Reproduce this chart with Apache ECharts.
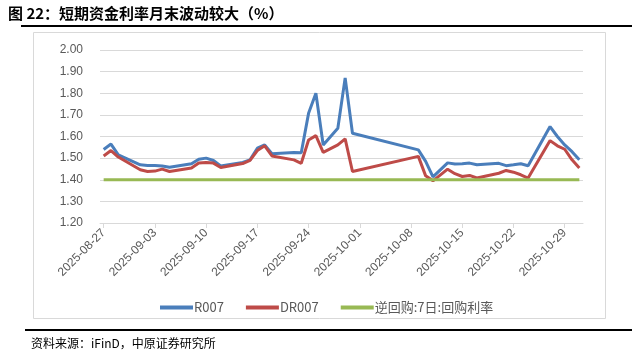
<!DOCTYPE html>
<html>
<head>
<meta charset="utf-8">
<script src="https://cdn.jsdelivr.net/npm/echarts@6/dist/echarts.min.js"></script>
<style>
html,body{margin:0;padding:0;background:#fff;}
#c{width:632px;height:364px;}
</style>
</head>
<body>
<div id="c"></div>
<script>
const dates = ["2025-08-27","2025-08-28","2025-08-29","2025-09-01","2025-09-02","2025-09-03","2025-09-04","2025-09-05","2025-09-08","2025-09-09","2025-09-10","2025-09-11","2025-09-12","2025-09-15","2025-09-16","2025-09-17","2025-09-18","2025-09-19","2025-09-22","2025-09-23","2025-09-24","2025-09-25","2025-09-26","2025-09-28","2025-09-29","2025-09-30","2025-10-09","2025-10-10","2025-10-11","2025-10-13","2025-10-14","2025-10-15","2025-10-16","2025-10-17","2025-10-20","2025-10-21","2025-10-22","2025-10-23","2025-10-24","2025-10-27","2025-10-28","2025-10-29","2025-10-30","2025-10-31"];
const r007 = [1.540,1.565,1.515,1.469,1.466,1.466,1.464,1.458,1.474,1.495,1.500,1.489,1.464,1.480,1.492,1.546,1.561,1.520,1.526,1.525,1.707,1.800,1.561,1.638,1.871,1.615,1.538,1.485,1.413,1.478,1.473,1.474,1.477,1.469,1.476,1.465,1.469,1.474,1.465,1.646,1.600,1.561,1.530,1.492];
const dr007 = [1.510,1.535,1.505,1.446,1.438,1.440,1.449,1.438,1.454,1.477,1.480,1.477,1.457,1.475,1.490,1.535,1.557,1.510,1.492,1.476,1.584,1.604,1.527,1.561,1.589,1.438,1.508,1.418,1.395,1.449,1.428,1.415,1.420,1.408,1.430,1.443,1.435,1.423,1.408,1.581,1.557,1.541,1.492,1.454];
const repo7d = [1.40,1.40,1.40,1.40,1.40,1.40,1.40,1.40,1.40,1.40,1.40,1.40,1.40,1.40,1.40,1.40,1.40,1.40,1.40,1.40,1.40,1.40,1.40,1.40,1.40,1.40,1.40,1.40,1.40,1.40,1.40,1.40,1.40,1.40,1.40,1.40,1.40,1.40,1.40,1.40,1.40,1.40,1.40,1.40];
const tickLabels = ["2025-08-27","2025-09-03","2025-09-10","2025-09-17","2025-09-24","2025-10-01","2025-10-08","2025-10-15","2025-10-22","2025-10-29"];
const seriesNames = ["R007","DR007","逆回购:7日:回购利率"];

const DAY = 86400000;
const t0 = Date.parse(dates[0] + "T00:00:00Z");
const off = d => Math.round((Date.parse(d + "T00:00:00Z") - t0) / DAY);
const tickOffsets = tickLabels.map(off);
const lastOff = off(dates[dates.length - 1]);
const labelByOff = {};
tickLabels.forEach(t => { labelByOff[off(t)] = t; });
const pairs = vals => dates.map((d, i) => [off(d), vals[i]]);

const chart = echarts.init(document.getElementById('c'), null, {renderer: 'canvas'});
const font = '"Liberation Sans", Arial, sans-serif';
chart.setOption({
  animation: false,
  backgroundColor: '#ffffff',
  textStyle: {fontFamily: font},
  graphic: [
    {type: 'text', left: 8, top: 6, style: {text: '图 22：短期资金利率月末波动较大（%）', font: 'bold 15px "Noto Sans CJK SC", sans-serif', fill: '#000'}},
    {type: 'rect', shape: {x: 21, y: 25, width: 611, height: 2}, style: {fill: '#000'}},
    {type: 'rect', shape: {x: 33.5, y: 32.5, width: 572, height: 286}, style: {fill: 'none', stroke: '#d9d9d9', lineWidth: 1}},
    {type: 'rect', shape: {x: 25, y: 329, width: 607, height: 2}, style: {fill: '#000'}},
    {type: 'text', left: 31, top: 337, style: {text: '资料来源：iFinD，中原证券研究所', font: '12px "Noto Sans CJK SC", sans-serif', fill: '#000'}}
  ],
  grid: {left: 100, right: 49, top: 50, bottom: 141, containLabel: false},
  legend: {
    left: 155, top: 296,
    icon: 'rect', itemWidth: 33, itemHeight: 4, itemGap: 22,
    textStyle: {color: '#595959', fontSize: 13, fontFamily: '"Noto Sans CJK SC", sans-serif', padding: [0,0,0,-4]},
    data: seriesNames
  },
  xAxis: {
    type: 'value', min: -0.5, max: lastOff + 0.5,
    splitLine: {show: false},
    axisLine: {show: true, lineStyle: {color: '#d9d9d9', width: 1}},
    axisTick: {show: true, customValues: tickOffsets, length: 5, inside: false, lineStyle: {color: '#d9d9d9'}},
    axisLabel: {
      customValues: tickOffsets, rotate: 45, color: '#595959', fontSize: 12, margin: 8,
      fontFamily: '"Liberation Sans", sans-serif',
      formatter: v => labelByOff[Math.round(v)] || ''
    }
  },
  yAxis: {
    type: 'value', min: 1.2, max: 2.0, interval: 0.1,
    axisLine: {show: false}, axisTick: {show: false},
    splitLine: {lineStyle: {color: '#d9d9d9', width: 1}},
    axisLabel: {color: '#595959', fontSize: 12, margin: 17, formatter: v => v.toFixed(2)}
  },
  series: [
    {name: seriesNames[0], type: 'line', data: pairs(r007), symbol: 'none', lineStyle: {color: '#4a7ebb', width: 3}, itemStyle: {color: '#4a7ebb'}, z: 3},
    {name: seriesNames[1], type: 'line', data: pairs(dr007), symbol: 'none', lineStyle: {color: '#be4b48', width: 3}, itemStyle: {color: '#be4b48'}, z: 4},
    {name: seriesNames[2], type: 'line', data: pairs(repo7d), symbol: 'none', lineStyle: {color: '#98b954', width: 3}, itemStyle: {color: '#98b954'}, z: 5}
  ]
});
</script>
</body>
</html>
